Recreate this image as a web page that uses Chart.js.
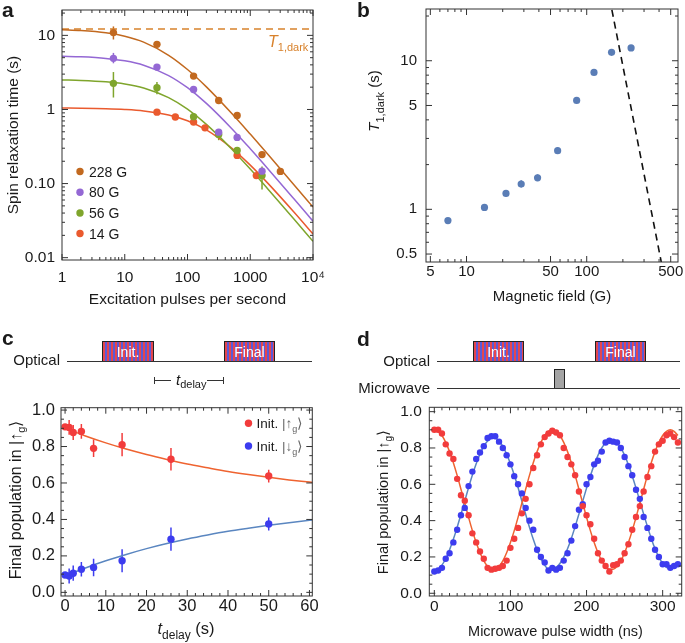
<!DOCTYPE html>
<html><head><meta charset="utf-8">
<script src="https://cdn.jsdelivr.net/npm/chart.js@4/dist/chart.umd.min.js"></script>
<style>
html,body{margin:0;padding:0;background:#fff;}
#wrap{position:relative;width:685px;height:643px;overflow:hidden;font-family:'Liberation Sans',Arial,Helvetica,sans-serif;color:#1a1a1a;}
canvas{position:absolute;left:0;top:0;}
.lbl{position:absolute;font-weight:bold;font-size:21px;line-height:1;}
.txt{position:absolute;font-size:15px;line-height:1;white-space:nowrap;}
.hline{position:absolute;height:0;border-top:1px solid #333;}
.vcap{position:absolute;width:0;border-left:1px solid #333;}
.pulse{position:absolute;box-sizing:border-box;border:1px solid #222;border-bottom:none;background:repeating-linear-gradient(90deg,#e4464f 0 2px,#5a5ad8 2px 4px);color:#fff;font-size:14px;text-align:center;line-height:20px;}
.mw{position:absolute;box-sizing:border-box;border:1px solid #222;border-bottom:none;background:#a4a4a4;}
</style></head><body><div id="wrap">
<canvas id="ca" width="685" height="643"></canvas>
<canvas id="cb" width="685" height="643"></canvas>
<canvas id="cc" width="685" height="643"></canvas>
<canvas id="cd" width="685" height="643"></canvas>

<div class="lbl" style="left:2px;top:-1px">a</div>
<div class="lbl" style="left:357px;top:-1px">b</div>
<div class="lbl" style="left:2px;top:327px">c</div>
<div class="lbl" style="left:357px;top:328px">d</div>

<!-- panel c pulse scheme -->
<div class="txt" style="right:625px;top:352px">Optical</div>
<div class="hline" style="left:67px;top:361px;width:245px"></div>
<div class="pulse" style="left:102px;top:341px;width:52px;height:20px">Init.</div>
<div class="pulse" style="left:224px;top:341px;width:51px;height:20px">Final</div>
<div class="hline" style="left:154px;top:380px;width:17px"></div>
<div class="hline" style="left:207px;top:380px;width:17px"></div>
<div class="vcap" style="left:154px;top:377px;height:7px"></div>
<div class="vcap" style="left:223px;top:377px;height:7px"></div>
<div class="txt" style="left:176px;top:372px"><i>t</i><span style="font-size:11px;position:relative;top:3px">delay</span></div>

<!-- panel d pulse scheme -->
<div class="txt" style="right:255px;top:353px">Optical</div>
<div class="hline" style="left:437px;top:361px;width:243px"></div>
<div class="pulse" style="left:473px;top:341px;width:51px;height:20px">Init.</div>
<div class="pulse" style="left:595px;top:341px;width:51px;height:20px">Final</div>
<div class="txt" style="right:255px;top:380px">Microwave</div>
<div class="hline" style="left:437px;top:388px;width:243px"></div>
<div class="mw" style="left:554px;top:369px;width:11px;height:19px"></div>
</div>
<script>
const FAM = "'Liberation Sans', Arial, Helvetica, sans-serif";
const INK = '#1a1a1a';

// ---------------- Panel a ----------------
const aSeries = ['228 G', '80 G', '56 G', '14 G'];
const aX228 = [6.6, 32.6, 125, 314, 618, 1540, 3020];
const aY228 = [10.9, 7.56, 2.82, 1.32, 0.83, 0.246, 0.146];
const aLo228 = [8.8, null, null, null, null, null, null];
const aHi228 = [13.2, null, null, null, null, null, null];
const aX80 = [6.6, 32.6, 125, 314, 618, 1540];
const aY80 = [4.9, 3.73, 1.86, 0.494, 0.42, 0.147];
const aLo80 = [4.2, null, null, null, null, null];
const aHi80 = [5.8, null, null, null, null, null];
const aX56 = [6.6, 32.6, 125, 314, 618, 1540];
const aY56 = [2.25, 1.96, 0.80, 0.46, 0.28, 0.128];
const aLo56 = [1.45, 1.6, 0.72, 0.385, null, 0.083];
const aHi56 = [3.2, 2.35, 0.86, 0.5, null, 0.17];
const aX14 = [32.6, 64, 125, 190, 618, 1250];
const aY14 = [0.92, 0.79, 0.675, 0.565, 0.24, 0.128];
const aFitX = [1, 2, 5, 10, 20, 50, 100, 200, 500, 1000, 2000, 5000, 10000];
const aFit228 = [11.90, 11.61, 10.83, 9.74, 8.11, 5.39, 3.46, 2.016, 0.895, 0.465, 0.237, 0.0959, 0.0481];
const aFit80 = [5.21, 5.13, 4.89, 4.53, 3.96, 2.87, 1.966, 1.207, 0.559, 0.295, 0.1518, 0.0618, 0.0311];
const aFit56 = [2.50, 2.465, 2.36, 2.205, 1.948, 1.443, 1.008, 0.629, 0.2953, 0.1568, 0.0809, 0.0330, 0.0166];
const aFit14 = [1.045, 1.040, 1.025, 1.001, 0.956, 0.842, 0.704, 0.529, 0.303, 0.1772, 0.0968, 0.0410, 0.0209];
const aT1darkX = [1, 10000];
const aT1darkY = [12.2, 12.2];
const aXTickVals = [1, 10, 100, 1000, 10000];
const aXTickLabels = ['1', '10', '100', '1000', '10\u2074'];
const aYTickVals = [0.01, 0.1, 1, 10];
const aYTickLabels = ['0.01', '0.10', '1', '10'];

// ---------------- Panel b ----------------
const bField = [7.0, 14.1, 21.3, 28.5, 39, 57.3, 82.5, 115, 161, 234];
const bT1 = [0.84, 1.03, 1.28, 1.48, 1.63, 2.48, 5.41, 8.35, 11.4, 12.2];
const bLo = [null, null, 1.22, 1.40, 1.55, 2.36, 5.2, null, null, null];
const bHi = [null, null, 1.35, 1.57, 1.72, 2.6, 5.6, null, null, null];
const bLimitX = [155, 420];
const bLimitY = [26.4, 0.43];
const bXTickVals = [5, 10, 50, 100, 500];
const bXTickLabels = ['5', '10', '50', '100', '500'];
const bYTickVals = [0.5, 1, 5, 10];
const bYTickLabels = ['0.5', '1', '5', '10'];

// ---------------- Panel c ----------------
const cT = [0, 1, 2, 4, 7, 14, 26, 50];
const cUp = [0.908, 0.905, 0.877, 0.883, 0.79, 0.81, 0.73, 0.638];
const cUpErr = [0, 0.041, 0.041, 0.04, 0.048, 0.064, 0.062, 0.035];
const cDown = [0.095, 0.09, 0.105, 0.127, 0.137, 0.173, 0.292, 0.375];
const cDownErr = [0, 0.041, 0.042, 0.04, 0.048, 0.063, 0.064, 0.036];
const cFitT = [0, 5, 10, 15, 20, 25, 30, 35, 40, 45, 50, 55, 60, 62];
const cFitUp = [0.900, 0.858, 0.820, 0.786, 0.756, 0.729, 0.704, 0.683, 0.663, 0.646, 0.631, 0.617, 0.605, 0.600];
const cFitDown = [0.090, 0.134, 0.173, 0.208, 0.240, 0.268, 0.293, 0.315, 0.335, 0.352, 0.368, 0.382, 0.395, 0.400];
const cXTickVals = [0, 10, 20, 30, 40, 50, 60];
const cXTickLabels = ['0', '10', '20', '30', '40', '50', '60'];
const cYTickVals = [0, 0.2, 0.4, 0.6, 0.8, 1.0];
const cYTickLabels = ['0.0', '0.2', '0.4', '0.6', '0.8', '1.0'];

// ---------------- Panel d ----------------
const dWidth = [0,5,10,15,20,25,30,35,40,45,50,55,60,65,70,75,80,85,90,95,100,105,110,115,120,125,130,135,140,145,150,155,160,165,170,175,180,185,190,195,200,205,210,215,220,225,230,235,240,245,250,255,260,265,270,275,280,285,290,295,300,305,310,315,320];
const dUp = [0.90,0.90,0.88,0.82,0.77,0.74,0.63,0.54,0.51,0.43,0.33,0.28,0.23,0.19,0.14,0.13,0.135,0.14,0.15,0.18,0.25,0.30,0.36,0.44,0.52,0.60,0.69,0.76,0.82,0.86,0.88,0.895,0.885,0.87,0.80,0.75,0.71,0.65,0.56,0.48,0.43,0.38,0.30,0.22,0.18,0.15,0.12,0.155,0.16,0.18,0.22,0.27,0.35,0.42,0.48,0.56,0.64,0.70,0.78,0.82,0.84,0.87,0.88,0.86,0.83];
const dDown = [0.12,0.125,0.14,0.19,0.22,0.28,0.35,0.43,0.47,0.59,0.67,0.74,0.775,0.81,0.855,0.865,0.865,0.835,0.80,0.76,0.71,0.645,0.60,0.55,0.47,0.40,0.35,0.24,0.20,0.17,0.125,0.14,0.13,0.14,0.18,0.22,0.29,0.37,0.46,0.49,0.60,0.64,0.71,0.73,0.78,0.83,0.84,0.835,0.83,0.80,0.75,0.70,0.65,0.57,0.52,0.42,0.36,0.30,0.24,0.20,0.16,0.16,0.14,0.15,0.16];
const dFitUp = [0.900,0.892,0.869,0.831,0.780,0.719,0.649,0.573,0.496,0.418,0.345,0.279,0.223,0.178,0.148,0.132,0.132,0.148,0.178,0.223,0.279,0.345,0.418,0.496,0.573,0.649,0.719,0.780,0.831,0.869,0.892,0.900,0.892,0.869,0.831,0.780,0.719,0.649,0.573,0.496,0.418,0.345,0.279,0.223,0.178,0.148,0.132,0.132,0.148,0.178,0.223,0.279,0.345,0.418,0.496,0.573,0.649,0.719,0.780,0.831,0.869,0.892,0.900,0.892,0.869];
const dFitDown = [0.125,0.132,0.155,0.190,0.239,0.297,0.363,0.435,0.508,0.582,0.651,0.713,0.767,0.809,0.838,0.853,0.853,0.838,0.809,0.767,0.713,0.651,0.582,0.508,0.435,0.363,0.297,0.239,0.190,0.155,0.132,0.135,0.142,0.164,0.199,0.245,0.302,0.367,0.436,0.508,0.579,0.646,0.707,0.759,0.800,0.829,0.843,0.843,0.829,0.800,0.759,0.707,0.646,0.579,0.508,0.436,0.367,0.302,0.245,0.199,0.164,0.142,0.135,0.142,0.164];
const dXTickVals = [0, 100, 200, 300];
const dXTickLabels = ['0', '100', '200', '300'];
const dYTickVals = cYTickVals;
const dYTickLabels = cYTickLabels;

// ---------------- helpers ----------------
const pts = (xs, ys) => xs.map((x, i) => ({x, y: ys[i]}));
function logTicks(min, max, majors) {
  const out = [];
  for (let e = Math.floor(Math.log10(min)); e <= Math.ceil(Math.log10(max)); e++) {
    for (let k = 1; k <= 9; k++) {
      const v = parseFloat((k * Math.pow(10, e)).toPrecision(6));
      if (v >= min && v <= max) out.push({value: v, major: majors.some(m => Math.abs(m - v) / m < 1e-6)});
    }
  }
  return out;
}
function linTicks(min, max, step, majors) {
  const out = [];
  for (let i = Math.ceil(min / step - 1e-9); i * step <= max + 1e-9; i++) {
    const v = +(i * step).toFixed(6);
    out.push({value: v, major: majors.some(m => Math.abs(m - v) < 1e-6)});
  }
  return out;
}
function axis(o, isX) {
  return {
    type: o.type, min: o.min, max: o.max, bounds: 'data',
    position: isX ? 'bottom' : 'left',
    grid: {display: false, drawTicks: false},
    border: {display: false},
    afterBuildTicks: s => { s.ticks = o.ticks.map(t => ({value: t.value, major: t.major})); },
    afterFit: s => {
      if (isX) s.height = o.size; else s.width = o.size;
      s.paddingTop = 0; s.paddingBottom = 0; s.paddingLeft = 0; s.paddingRight = 0;
    },
    ticks: {
      autoSkip: false, maxRotation: 0, minRotation: 0, padding: o.pad,
      font: {family: FAM, size: o.font}, color: INK,
      callback: v => {
        const i = o.vals.findIndex(m => Math.abs(m - v) <= Math.abs(m) * 1e-6 + 1e-9);
        return i >= 0 ? o.labels[i] : '';
      }
    },
    title: o.title ? {display: true, text: o.title, color: INK, font: {family: FAM, size: o.titleSize},
      padding: {top: 4, bottom: o.titlePad}} : {display: false}
  };
}
function drawRuns(ctx, runs, x, y, size, color, align, rot) {
  ctx.save();
  ctx.translate(x, y);
  if (rot) ctx.rotate(rot);
  const fontOf = r => (r.it ? 'italic ' : '') + (r.sub ? Math.round(size * 0.7) : size) + 'px ' + FAM;
  let w = 0;
  const ws = runs.map(r => { ctx.font = fontOf(r); const m = ctx.measureText(r.t).width; w += m; return m; });
  let cx = align === 'center' ? -w / 2 : (align === 'right' ? -w : 0);
  ctx.textBaseline = 'alphabetic';
  ctx.textAlign = 'left';
  runs.forEach((r, i) => {
    ctx.font = fontOf(r);
    ctx.fillStyle = r.color || color;
    ctx.fillText(r.t, cx, size * 0.36 + (r.sub ? size * 0.28 : 0));
    cx += ws[i];
  });
  ctx.restore();
}
const framePlugin = {
  id: 'frameTicks',
  afterDraw(chart) {
    const {ctx, chartArea: a, scales} = chart;
    ctx.save();
    ctx.strokeStyle = '#333';
    ctx.lineWidth = 1;
    ctx.strokeRect(a.left, a.top, a.right - a.left, a.bottom - a.top);
    ctx.beginPath();
    scales.x.ticks.forEach(t => {
      const p = scales.x.getPixelForValue(t.value);
      if (p < a.left - 0.5 || p > a.right + 0.5) return;
      const L = t.major ? 6 : 3;
      ctx.moveTo(p, a.bottom); ctx.lineTo(p, a.bottom - L);
      ctx.moveTo(p, a.top); ctx.lineTo(p, a.top + L);
    });
    scales.y.ticks.forEach(t => {
      const p = scales.y.getPixelForValue(t.value);
      if (p < a.top - 0.5 || p > a.bottom + 0.5) return;
      const L = t.major ? 6 : 3;
      ctx.moveTo(a.left, p); ctx.lineTo(a.left + L, p);
      ctx.moveTo(a.right, p); ctx.lineTo(a.right - L, p);
    });
    ctx.stroke();
    ctx.restore();
  }
};
const errorPlugin = {
  id: 'errorBars',
  beforeDatasetsDraw(chart) {
    const {ctx, chartArea: a, scales: {x, y}} = chart;
    ctx.save();
    ctx.beginPath(); ctx.rect(a.left, a.top, a.right - a.left, a.bottom - a.top); ctx.clip();
    chart.data.datasets.forEach(ds => {
      if (!ds.errLo) return;
      ctx.strokeStyle = ds.backgroundColor;
      ctx.lineWidth = 1.5;
      ds.data.forEach((p, i) => {
        const lo = ds.errLo[i], hi = ds.errHi[i];
        if (lo == null || hi == null || hi - lo <= 0) return;
        const px = x.getPixelForValue(p.x);
        ctx.beginPath();
        ctx.moveTo(px, y.getPixelForValue(lo));
        ctx.lineTo(px, y.getPixelForValue(hi));
        ctx.stroke();
      });
    });
    ctx.restore();
  }
};
function extrasPlugin(texts, legend) {
  return {
    id: 'extras',
    afterDraw(chart) {
      const ctx = chart.ctx;
      (texts || []).forEach(t => drawRuns(ctx, t.runs, t.x, t.y, t.size, t.color || INK, t.align || 'center', t.rot || 0));
      if (legend) {
        legend.items.forEach(it => {
          const ds = chart.data.datasets[it.ds];
          ctx.save();
          ctx.fillStyle = ds.backgroundColor;
          ctx.beginPath(); ctx.arc(legend.x, it.y, legend.r, 0, Math.PI * 2); ctx.fill();
          ctx.restore();
          drawRuns(ctx, it.runs, legend.x + legend.gap, it.y, legend.size, INK, 'left', 0);
        });
      }
    }
  };
}
function pointDs(data, color, r, lo, hi) {
  return {type: 'scatter', data, backgroundColor: color, borderColor: color, pointRadius: r,
    pointBorderWidth: 0, showLine: false, order: 1, errLo: lo || null, errHi: hi || null};
}
function lineDs(data, color, width, dash) {
  return {type: 'line', data, borderColor: color, backgroundColor: color, borderWidth: width || 1.5,
    borderDash: dash || [], pointRadius: 0, fill: false, cubicInterpolationMode: 'monotone', order: 2};
}
function makeChart(id, c) {
  return new Chart(document.getElementById(id), {
    type: 'scatter',
    data: {datasets: c.datasets},
    options: {
      responsive: false, animation: false, devicePixelRatio: 1, events: [],
      layout: {autoPadding: false, padding: c.padding},
      plugins: {legend: {display: false}, tooltip: {enabled: false}},
      scales: {x: axis(c.x, true), y: axis(c.y, false)}
    },
    plugins: [errorPlugin, framePlugin, extrasPlugin(c.texts, c.legend)]
  });
}

// colours
const C228 = '#c2691f', C80 = '#9468d4', C56 = '#7fa52c', C14 = '#ea5a2e', CT1 = '#d8822c';
const CB = '#5a7db6';
const CRED = '#f23c3c', CREDFIT = '#ef6330', CBLUE = '#3c3cef', CBLUEFIT = '#5a86c0';

// ---------------- build panel a ----------------
makeChart('ca', {
  padding: {left: 0, top: 10, right: 372, bottom: 330},
  x: {type: 'logarithmic', min: 1, max: 10000, ticks: logTicks(1, 10000, aXTickVals), vals: aXTickVals, labels: aXTickLabels,
      size: 53, pad: 8, font: 15.5, title: 'Excitation pulses per second', titleSize: 15.5, titlePad: 4},
  y: {type: 'logarithmic', min: 0.0093, max: 22, ticks: logTicks(0.0093, 22, aYTickVals), vals: aYTickVals, labels: aYTickLabels,
      size: 62, pad: 7, font: 15.5, title: 'Spin relaxation time (s)', titleSize: 15.5, titlePad: 4},
  datasets: [
    pointDs(pts(aX228, aY228), C228, 3.7, aLo228, aHi228),
    pointDs(pts(aX80, aY80), C80, 3.7, aLo80, aHi80),
    pointDs(pts(aX56, aY56), C56, 3.7, aLo56, aHi56),
    pointDs(pts(aX14, aY14), C14, 3.7),
    lineDs(pts(aFitX, aFit228), C228),
    lineDs(pts(aFitX, aFit80), C80),
    lineDs(pts(aFitX, aFit56), C56),
    lineDs(pts(aFitX, aFit14), C14),
    lineDs(pts(aT1darkX, aT1darkY), CT1, 1.6, [7, 5])
  ],
  texts: [{runs: [{t: 'T', it: true}, {t: '1,dark', sub: true}], x: 268, y: 41, size: 16, color: CT1, align: 'left'}],
  legend: {x: 80, r: 3.7, gap: 9, size: 14, items: [
    {ds: 0, y: 171.5, runs: [{t: aSeries[0]}]},
    {ds: 1, y: 192.3, runs: [{t: aSeries[1]}]},
    {ds: 2, y: 213, runs: [{t: aSeries[2]}]},
    {ds: 3, y: 233.5, runs: [{t: aSeries[3]}]}
  ]}
});

// ---------------- build panel b ----------------
makeChart('cb', {
  padding: {left: 340, top: 9, right: 7, bottom: 333},
  x: {type: 'logarithmic', min: 4.6, max: 575, ticks: logTicks(4.6, 575, bXTickVals), vals: bXTickVals, labels: bXTickLabels,
      size: 48, pad: 1, font: 15, title: 'Magnetic field (G)', titleSize: 15, titlePad: 4},
  y: {type: 'logarithmic', min: 0.442, max: 22.3, ticks: logTicks(0.442, 22.3, bYTickVals), vals: bYTickVals, labels: bYTickLabels,
      size: 86, pad: 9, font: 15},
  datasets: [
    pointDs(pts(bField, bT1), CB, 3.6, bLo, bHi),
    lineDs(pts(bLimitX, bLimitY), '#111', 1.6, [7, 5])
  ],
  texts: [{runs: [{t: 'T', it: true}, {t: '1,dark', sub: true}, {t: ' (s)'}], x: 374, y: 101, size: 15, rot: -Math.PI / 2}]
});

// ---------------- build panel c ----------------
makeChart('cc', {
  padding: {left: 0, top: 407.7, right: 372.7, bottom: 0},
  x: {type: 'linear', min: -1, max: 60.7, ticks: linTicks(-1, 60.7, 2, cXTickVals), vals: cXTickVals, labels: cXTickLabels,
      size: 47, pad: 1, font: 16.5},
  y: {type: 'linear', min: -0.02, max: 1.013, ticks: linTicks(-0.02, 1.013, 0.05, cYTickVals), vals: cYTickVals, labels: cYTickLabels,
      size: 61, pad: 6, font: 16.5},
  datasets: [
    pointDs(pts(cT, cUp), CRED, 3.7, cUp.map((v, i) => v - cUpErr[i]), cUp.map((v, i) => v + cUpErr[i])),
    pointDs(pts(cT, cDown), CBLUE, 3.7, cDown.map((v, i) => v - cDownErr[i]), cDown.map((v, i) => v + cDownErr[i])),
    lineDs(pts(cFitT, cFitUp), CREDFIT),
    lineDs(pts(cFitT, cFitDown), CBLUEFIT)
  ],
  texts: [
    {runs: [{t: 'Final population in |\u2191'}, {t: 'g', sub: true}, {t: '\u27E9'}], x: 15, y: 500, size: 16, rot: -Math.PI / 2},
    {runs: [{t: 't', it: true}, {t: 'delay', sub: true}, {t: ' (s)'}], x: 186, y: 628, size: 16.5}
  ],
  legend: {x: 248.5, r: 3.7, gap: 8, size: 13.5, items: [
    {ds: 0, y: 423.3, runs: [{t: 'Init. '}, {t: '|\u2191', color: '#666'}, {t: 'g', sub: true, color: '#666'}, {t: '\u27E9', color: '#666'}]},
    {ds: 1, y: 446, runs: [{t: 'Init. '}, {t: '|\u2193', color: '#666'}, {t: 'g', sub: true, color: '#666'}, {t: '\u27E9', color: '#666'}]}
  ]}
});

// ---------------- build panel d ----------------
makeChart('cd', {
  padding: {left: 340, top: 407.3, right: 3.3, bottom: 0},
  x: {type: 'linear', min: -6.6, max: 325, ticks: linTicks(-6.6, 325, 10, dXTickVals), vals: dXTickVals, labels: dXTickLabels,
      size: 47, pad: 1.5, font: 15.5, title: 'Microwave pulse width (ns)', titleSize: 14.5, titlePad: 2.5},
  y: {type: 'linear', min: -0.015, max: 1.024, ticks: linTicks(-0.015, 1.024, 0.05, dYTickVals), vals: dYTickVals, labels: dYTickLabels,
      size: 89.3, pad: 7.5, font: 15.5},
  datasets: [
    pointDs(pts(dWidth, dUp), CRED, 3.2),
    pointDs(pts(dWidth, dDown), CBLUE, 3.2),
    lineDs(pts(dWidth, dFitUp), CREDFIT),
    lineDs(pts(dWidth, dFitDown), CBLUEFIT)
  ],
  texts: [
    {runs: [{t: 'Final population in |\u2191'}, {t: 'g', sub: true}, {t: '\u27E9'}], x: 383, y: 502, size: 14.5, rot: -Math.PI / 2}
  ]
});
</script>
</body></html>
